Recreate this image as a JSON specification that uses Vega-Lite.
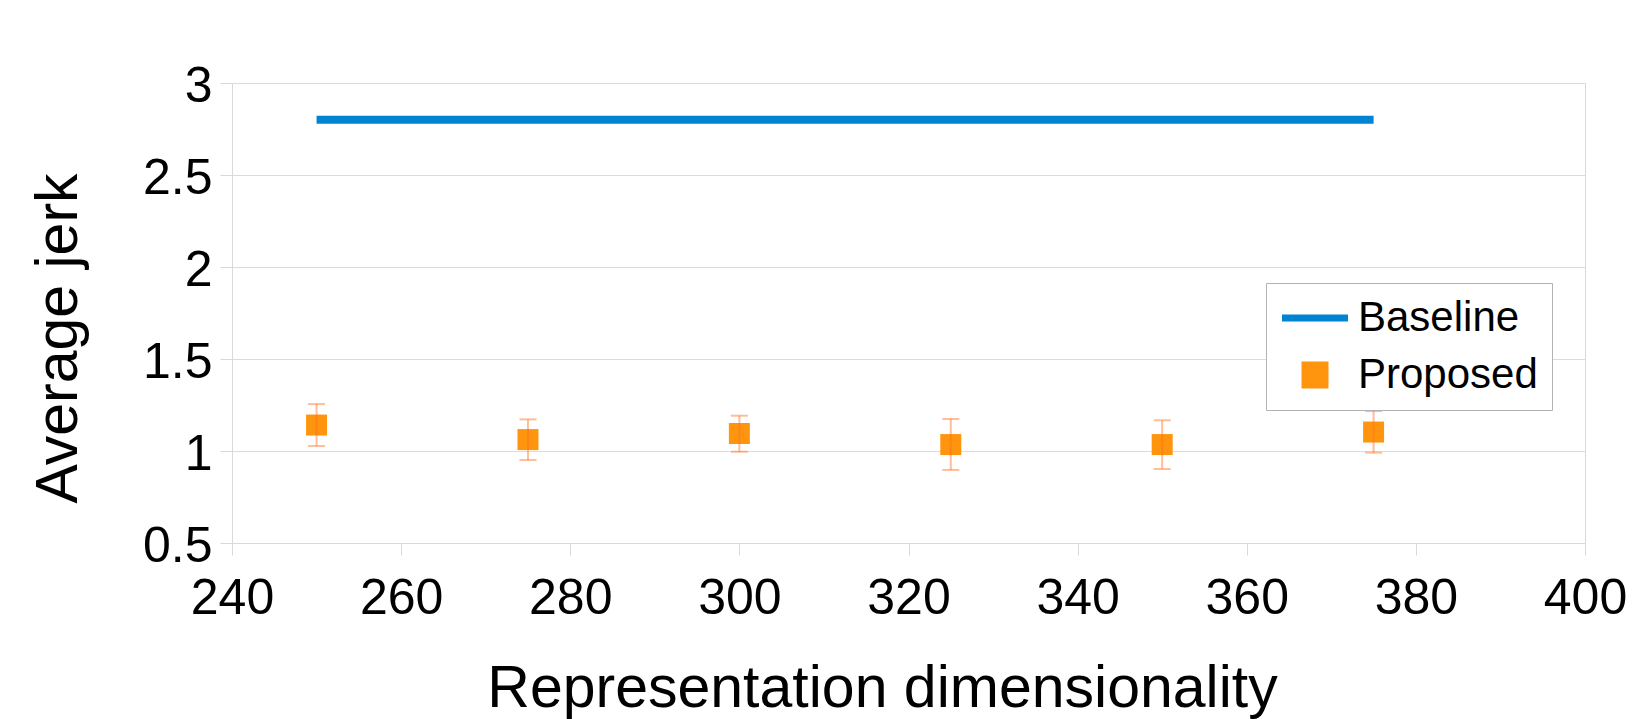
{
  "$schema": "https://vega.github.io/schema/vega-lite/v6.json",
  "autosize": "none",
  "width": 1353,
  "height": 460,
  "padding": {"left": 232, "top": 83, "right": 48, "bottom": 176},
  "background": "white",
  "config": {
    "font": "Liberation Sans",
    "view": {"stroke": "#d9d9d9", "strokeWidth": 1},
    "axis": {
      "domainColor": "#d9d9d9",
      "tickColor": "#d9d9d9",
      "gridColor": "#dcdcdc",
      "labelColor": "black",
      "titleColor": "black",
      "labelFont": "Liberation Sans",
      "titleFont": "Liberation Sans",
      "titleFontWeight": "normal"
    }
  },
  "datasets": {
    "baseline": [
      {"dim": 250, "jerk": 2.8, "series": "Baseline"},
      {"dim": 375, "jerk": 2.8, "series": "Baseline"}
    ],
    "proposed": [
      {"dim": 250, "jerk": 1.141, "lo": 1.027, "hi": 1.255, "series": "Proposed"},
      {"dim": 275, "jerk": 1.062, "lo": 0.951, "hi": 1.172, "series": "Proposed"},
      {"dim": 300, "jerk": 1.095, "lo": 0.996, "hi": 1.192, "series": "Proposed"},
      {"dim": 325, "jerk": 1.035, "lo": 0.897, "hi": 1.174, "series": "Proposed"},
      {"dim": 350, "jerk": 1.035, "lo": 0.902, "hi": 1.167, "series": "Proposed"},
      {"dim": 375, "jerk": 1.103, "lo": 0.991, "hi": 1.217, "series": "Proposed"}
    ]
  },
  "layer": [
    {
      "data": {"name": "baseline"},
      "mark": {"type": "line", "strokeWidth": 8, "strokeCap": "butt"},
      "encoding": {
        "x": {
          "field": "dim",
          "type": "quantitative",
          "scale": {"domain": [240, 400], "nice": false, "zero": false},
          "axis": {
            "values": [240, 260, 280, 300, 320, 340, 360, 380, 400],
            "format": "d",
            "grid": false,
            "tickSize": 12,
            "labelFontSize": 50,
            "labelPadding": 18,
            "labelFlush": false,
            "labelOverlap": false,
            "title": "Representation dimensionality",
            "titleFontSize": 59,
            "titleBaseline": "alphabetic",
            "titleAlign": "center",
            "titleX": 650,
            "titleY": 163
          }
        },
        "y": {
          "field": "jerk",
          "type": "quantitative",
          "scale": {"domain": [0.5, 3], "nice": false, "zero": false},
          "axis": {
            "values": [0.5, 1, 1.5, 2, 2.5, 3],
            "format": "~g",
            "grid": true,
            "tickSize": 12,
            "labelFontSize": 50,
            "labelPadding": 8,
            "labelOffset": 3,
            "labelFlush": false,
            "labelOverlap": false,
            "title": "Average jerk",
            "titleFontSize": 59,
            "titleAngle": -90,
            "titleBaseline": "alphabetic",
            "titleAlign": "center",
            "titleX": -156,
            "titleY": 255
          }
        },
        "color": {
          "field": "series",
          "type": "nominal",
          "scale": {"domain": ["Baseline", "Proposed"], "range": ["#0084d1", "#ff950e"]},
          "legend": {
            "title": null,
            "orient": "none",
            "legendX": 1034,
            "legendY": 200,
            "direction": "vertical",
            "padding": 14,
            "strokeColor": "#b3b3b3",
            "fillColor": "white",
            "labelFontSize": 42,
            "labelFont": "Liberation Sans",
            "labelColor": "black",
            "labelLimit": 0,
            "labelOffset": 22,
            "symbolOffset": 14,
            "rowPadding": 15,
            "symbolType": "stroke",
            "symbolSize": 4356,
            "symbolStrokeWidth": 7,
            "symbolOpacity": 1,
            "encode": {
              "symbols": {
                "update": {
                  "shape": {"signal": "datum.value === 'Baseline' ? 'stroke' : 'square'"},
                  "size": {"signal": "datum.value === 'Baseline' ? 4356 : 729"},
                  "strokeWidth": {"signal": "datum.value === 'Baseline' ? 7 : 0"},
                  "fill": {"signal": "datum.value === 'Baseline' ? 'transparent' : '#ff950e'"},
                  "stroke": {"signal": "datum.value === 'Baseline' ? '#0084d1' : '#ff950e'"},
                  "opacity": {"value": 1}
                }
              }
            }
          }
        }
      }
    },
    {
      "data": {"name": "proposed"},
      "mark": {"type": "square", "size": 441, "filled": true, "opacity": 1},
      "encoding": {
        "x": {"field": "dim", "type": "quantitative"},
        "y": {"field": "jerk", "type": "quantitative"},
        "color": {"field": "series", "type": "nominal"}
      }
    },
    {
      "data": {"name": "proposed"},
      "mark": {"type": "rule", "color": "#ff6d1e", "opacity": 0.45, "strokeWidth": 2},
      "encoding": {
        "x": {"field": "dim", "type": "quantitative"},
        "y": {"field": "lo", "type": "quantitative"},
        "y2": {"field": "hi"}
      }
    },
    {
      "data": {"name": "proposed"},
      "mark": {"type": "tick", "orient": "horizontal", "size": 17, "thickness": 2, "color": "#ff6d1e", "opacity": 0.45},
      "encoding": {
        "x": {"field": "dim", "type": "quantitative"},
        "y": {"field": "lo", "type": "quantitative"}
      }
    },
    {
      "data": {"name": "proposed"},
      "mark": {"type": "tick", "orient": "horizontal", "size": 17, "thickness": 2, "color": "#ff6d1e", "opacity": 0.45},
      "encoding": {
        "x": {"field": "dim", "type": "quantitative"},
        "y": {"field": "hi", "type": "quantitative"}
      }
    }
  ]
}
